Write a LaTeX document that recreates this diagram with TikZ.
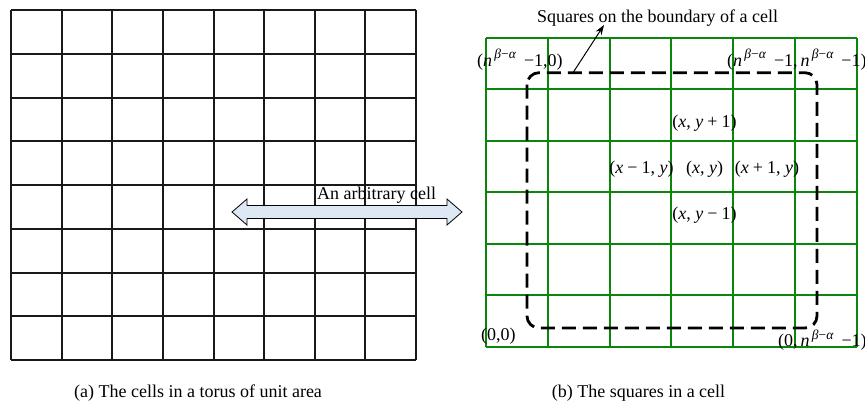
\documentclass[tikz,border=0pt]{standalone}
\usepackage{fontspec}
\setmainfont{Liberation Serif}
\usetikzlibrary{arrows.meta}
\definecolor{gridgreen}{RGB}{10,135,10}
\definecolor{arrowfill}{RGB}{222,232,245}
\newcommand{\nbaexp}{\textit{n}\raisebox{0.4em}{\fontsize{13.5}{13.5}\selectfont\,\textit{β}−\textit{α}}}
\newcommand{\msp}{\hspace{0.22em}}
\begin{document}
\begin{tikzpicture}[x=1pt,y=-1pt,
  every node/.style={font=\fontsize{18}{21}\selectfont, inner sep=0pt},
  lbl/.style={anchor=base},
  lblw/.style={anchor=base west},
  blackgrid/.style={line width=1.9pt, black!90},
  greengrid/.style={line width=1.25pt, gridgreen},
  boundarybox/.style={line width=2.8pt, dash pattern=on 14pt off 7pt, rounded corners=12pt},
  bigarrow/.style={draw=black, line width=0.8pt, fill=arrowfill}]
\useasboundingbox (0,0) rectangle (865,408);
% left grid
\foreach \i in {0,...,8} {
  \pgfmathsetmacro{\gx}{round(11+\i*50.625)}
  \pgfmathsetmacro{\gy}{round(10+\i*43.75)}
  \draw[blackgrid] (\gx,10) -- (\gx,360);
  \draw[blackgrid] (11,\gy) -- (416,\gy);
}
% right grid
\foreach \i in {0,...,6} {
  \pgfmathsetmacro{\hx}{round(486+\i*61.83)}
  \pgfmathsetmacro{\hy}{round(37.5+\i*51.58)}
  \draw[greengrid] (\hx,38) -- (\hx,347);
  \draw[greengrid] (486,\hy) -- (857,\hy);
}
% dashed boundary
\draw[boundarybox] (527,72.7) rectangle (817,328);
% double arrow
\draw[bigarrow] (232,212) -- (247,199) -- (247,205.5) -- (447,205.5) -- (447,199)
  -- (462,212) -- (447,225) -- (447,218.5) -- (247,218.5) -- (247,225) -- cycle;
\node[lblw] (arb) at (317,199) {An arbitrary cell};
% pointer
\node[lblw] (sq) at (537,22.5) {Squares on the boundary of a cell};
\coordinate (bstart) at (573,72.7);
\coordinate (bend) at (604,25);
\draw[line width=1pt, -{Stealth[length=10pt,width=7pt]}] (bstart) -- (bend);
% labels
\node[lblw] (tl) at (477,66) {(\nbaexp\msp\msp−1,0)};
\node[lblw] (tr) at (727,66) {(\nbaexp\msp\msp−1,\,\nbaexp\msp\msp−1)};
\node[lbl] (up) at (704.5,127.5) {(\textit{x}, \textit{y}\msp+\msp1)};
\node[lbl] (lf) at (641.5,173.5) {(\textit{x}\msp−\msp1, \textit{y})};
\node[lbl] (ct) at (704.5,173.5) {(\textit{x}, \textit{y})};
\node[lbl] (rt) at (767,173.5) {(\textit{x}\msp+\msp1, \textit{y})};
\node[lbl] (dn) at (704.5,219.5) {(\textit{x}, \textit{y}\msp−\msp1)};
\node[lblw] (oo) at (481,340.5) {(0,0)};
\node[lblw] (br) at (778,346.5) {(0,\,\nbaexp\msp\msp−1)};
% captions
\node[lbl] (capa) at (198,397.5) {(a) The cells in a torus of unit area};
\node[lbl] (capb) at (638.5,397.5) {(b) The squares in a cell};
\end{tikzpicture}
\end{document}
